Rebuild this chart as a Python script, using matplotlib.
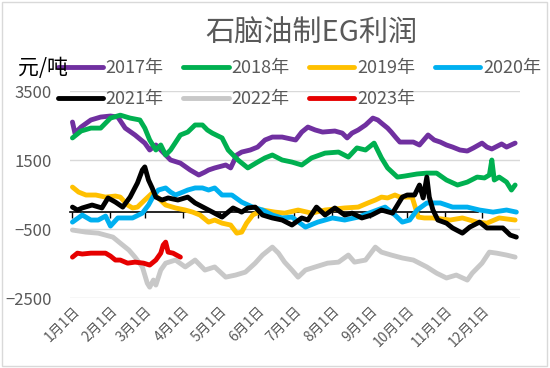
import matplotlib.pyplot as plt
from matplotlib.patches import Rectangle

plt.rcParams['font.family'] = ['Noto Sans CJK SC', 'DejaVu Sans']

# day of year (0 = 1月1日) and profit in 元/吨
days_2017 = [0, 2, 7, 15, 23, 31, 37, 43, 51, 59, 63, 68, 72, 80, 88, 96, 103, 108, 111, 116,
             125, 129, 134, 138, 145, 151, 157, 163, 171, 182, 187, 192, 198, 204, 214, 220,
             224, 228, 233, 239, 245, 249, 252, 257, 260, 264, 267, 273, 278, 283, 290, 295,
             300, 305, 310, 316, 322, 327, 334, 338, 342, 350, 354, 361]
vals_2017 = [2600, 2280, 2455, 2660, 2745, 2775, 2745, 2425, 2225, 1990, 1790, 1935, 1790, 1500,
             1410, 1210, 1065, 1150, 1210, 1270, 1355, 1270, 1645, 1730, 1790, 1875, 2080, 2165,
             2165, 2080, 2310, 2455, 2370, 2310, 2340, 2280, 2140, 2280, 2370, 2515, 2715, 2660,
             2570, 2425, 2310, 2140, 2020, 2020, 2020, 1935, 2225, 2080, 2020, 1935, 1875, 1790,
             1760, 1850, 1990, 1875, 1820, 1965, 1875, 1990]

days_2018 = [0, 7, 15, 23, 31, 39, 47, 55, 59, 63, 68, 72, 76, 80, 88, 94, 100, 106, 110, 114,
             122, 127, 135, 143, 151, 157, 163, 171, 179, 187, 195, 206, 217, 225, 232, 239,
             246, 252, 257, 265, 271, 281, 289, 297, 305, 314, 322, 330, 336, 340, 342, 344,
             348, 354, 358, 361]
vals_2018 = [2140, 2340, 2425, 2425, 2715, 2800, 2715, 2660, 2425, 2080, 1790, 1935, 1645, 1790,
             2225, 2310, 2515, 2515, 2370, 2280, 2140, 1790, 1500, 1270, 1440, 1560, 1645, 1500,
             1440, 1355, 1560, 1700, 1730, 1585, 1850, 1790, 1990, 1560, 1270, 1005, 1035, 1095,
             1120, 1120, 920, 775, 860, 1005, 980, 1065, 1500, 920, 1005, 860, 630, 775]

days_2019 = [0, 5, 11, 19, 27, 35, 39, 45, 49, 53, 59, 65, 70, 76, 84, 92, 98, 104, 111, 116,
             122, 129, 134, 138, 142, 147, 155, 165, 173, 184, 195, 206, 222, 233, 241, 247,
             252, 257, 263, 267, 277, 279, 282, 287, 294, 308, 318, 330, 338, 348, 361]
vals_2019 = [715, 570, 485, 485, 425, 455, 425, 195, 110, 135, 340, 540, 400, 195, 110, 50, -10,
             -95, -300, -240, -330, -385, -620, -590, -330, -95, 50, -10, -40, 50, -40, 50, 110,
             135, 255, 340, 425, 400, 485, 425, 425, 195, -155, -180, -180, -240, -180, -300,
             -330, -180, -240]

days_2020 = [0, 8, 15, 21, 27, 31, 37, 43, 49, 57, 62, 66, 70, 76, 80, 84, 90, 94, 100, 106,
             111, 116, 122, 130, 138, 147, 155, 163, 171, 179, 190, 200, 212, 222, 233, 244,
             255, 263, 269, 275, 281, 289, 300, 310, 322, 332, 343, 354, 362]
vals_2020 = [-300, -95, -240, -240, -125, -415, -180, -180, -180, -40, 195, 455, 630, 690, 570,
             485, 570, 630, 690, 690, 630, 690, 485, 485, 280, 135, 50, -95, -180, -155, -445,
             -300, -180, -240, -155, -10, 135, -95, -300, -240, 50, 255, 255, 135, 135, 50, -10,
             50, -10]

days_2021 = [0, 4, 8, 16, 24, 29, 35, 41, 47, 53, 57, 59, 62, 65, 68, 73, 78, 86, 94, 100, 111,
             122, 131, 138, 143, 149, 155, 163, 171, 179, 187, 192, 199, 206, 214, 222, 228,
             236, 244, 252, 261, 269, 273, 279, 283, 286, 289, 291, 294, 298, 305, 310, 318,
             324, 332, 338, 346, 351, 357, 362]
vals_2021 = [135, 50, 110, 195, 110, 400, 280, 135, 425, 835, 1210, 1300, 920, 690, 425, 340,
             400, 340, 425, 255, 50, -155, 110, -10, 110, 135, -95, -180, -240, -385, -180, -240,
             135, -95, 110, -95, -40, -180, -95, 50, -40, 425, 485, 485, 775, 400, 1005, 425, 50,
             -240, -330, -470, -620, -445, -300, -470, -470, -470, -675, -735]

days_2022 = [0, 11, 21, 33, 39, 46, 51, 57, 61, 63, 66, 68, 72, 76, 84, 92, 100, 108, 116, 125,
             133, 141, 149, 155, 163, 168, 173, 179, 184, 190, 198, 208, 217, 225, 230, 239,
             247, 252, 260, 269, 278, 289, 297, 305, 313, 322, 326, 334, 340, 346, 354, 361]
vals_2022 = [-530, -590, -620, -735, -910, -1110, -1315, -1600, -2070, -2185, -1980, -2125,
             -1690, -1490, -1400, -1600, -1400, -1690, -1600, -1895, -1835, -1750, -1490, -1255,
             -1025, -1200, -1460, -1690, -1895, -1690, -1600, -1490, -1460, -1255, -1460, -1400,
             -1025, -1170, -1255, -1340, -1400, -1600, -1780, -1920, -1835, -1980, -1780, -1490,
             -1170, -1200, -1255, -1315]

days_2023 = [0, 4, 8, 15, 21, 27, 31, 35, 39, 45, 51, 58, 63, 68, 72, 74, 76, 78, 82, 88]
vals_2023 = [-1315, -1200, -1225, -1200, -1200, -1200, -1285, -1400, -1400, -1490, -1460,
             -1490, -1545, -1400, -1200, -965, -880, -1170, -1200, -1315]

series = [
    ('2017年', days_2017, vals_2017, '#7030A0'),
    ('2018年', days_2018, vals_2018, '#00B050'),
    ('2019年', days_2019, vals_2019, '#FFC000'),
    ('2020年', days_2020, vals_2020, '#00B0F0'),
    ('2021年', days_2021, vals_2021, '#000000'),
    ('2022年', days_2022, vals_2022, '#C8C8C8'),
    ('2023年', days_2023, vals_2023, '#E60000'),
]

month_days = [0, 31, 59, 90, 120, 151, 181, 212, 243, 273, 304, 334]
month_labels = ['1月1日', '2月1日', '3月1日', '4月1日', '5月1日', '6月1日',
                '7月1日', '8月1日', '9月1日', '10月1日', '11月1日', '12月1日']
y_ticks = [-2500, -500, 1500, 3500]

fig = plt.figure(figsize=(5.5, 3.68), dpi=100)
ax = fig.add_axes([0.1273, 0.1902, 0.8182, 0.5625])

lines = []
for name, d, v, c in series:
    ln, = ax.plot(d, v, color=c, lw=3.5, label=name, solid_joinstyle='round',
                  solid_capstyle='round')
    lines.append(ln)

ax.set_xlim(-2, 365)
ax.set_ylim(-2500, 3500)
ax.set_yticks(y_ticks)
ax.grid(axis='y', color='#D9D9D9', lw=1)
ax.set_axisbelow(True)
for s in ax.spines.values():
    s.set_visible(False)
ax.tick_params(axis='y', length=0, pad=13, labelsize=12, labelcolor='#595959')

ax.set_xticks(month_days)
ax.set_xticklabels(month_labels, rotation=45, ha='right', va='top',
                   rotation_mode='anchor', fontsize=10, color='#595959')
ax.tick_params(axis='x', length=0, pad=4)

# horizontal axis line crossing at 0
zero_frac = (0 - (-2500)) / 6000
sec = ax.secondary_xaxis(zero_frac)
sec.set_xticks(month_days)
sec.set_xticklabels([])
sec.tick_params(direction='out', length=4, width=1, color='black')
sec.spines['bottom'].set_bounds(-2, 331)
sec.spines['bottom'].set_color('black')
sec.spines['bottom'].set_linewidth(1.2)

fig.text(0.567, 0.907, '石脑油制EG利润', ha='center', va='center',
         fontsize=21, color='#595959')
fig.text(0.033, 0.815, '元/吨', ha='left', va='center', fontsize=15, color='black')

# legend fills column by column, so order it to read row by row
order = [0, 4, 1, 5, 2, 6, 3]
ax.legend(handles=[lines[i] for i in order], ncol=4, loc='upper left',
          bbox_to_anchor=(0.105, 0.84), bbox_transform=fig.transFigure,
          frameon=False, fontsize=13, handlelength=2.5, handletextpad=0.15,
          columnspacing=1.1, labelspacing=0.75, borderpad=0, borderaxespad=0,
          labelcolor='#595959')

fig.patches.append(Rectangle((0.004, 0.005), 0.99, 0.99, transform=fig.transFigure,
                             fill=False, edgecolor='#D9D9D9', lw=1))

fig.savefig('out.png', dpi=100)
